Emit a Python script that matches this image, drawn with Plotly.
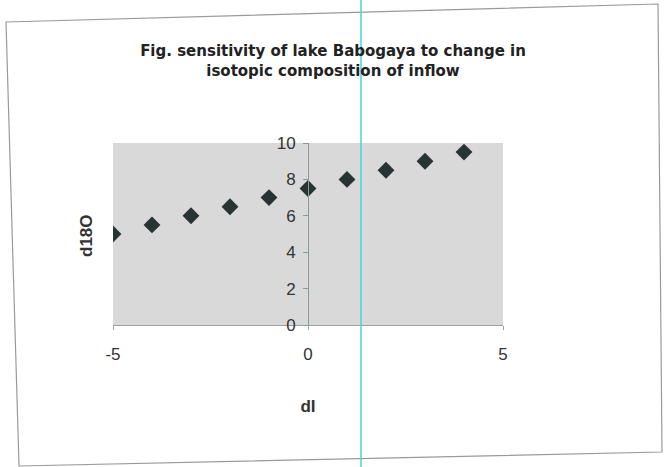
import plotly.graph_objects as go

# sensitivity of lake Babogaya: change in inflow composition (dI) vs lake d18O
dI = [-5, -4, -3, -2, -1, 0, 1, 2, 3, 4]
d18O = [5.0, 5.5, 6.0, 6.5, 7.0, 7.5, 8.0, 8.5, 9.0, 9.5]
x_ticks = [-5, 0, 5]
x_labels = ["-5", "0", "5"]
y_ticks = [0, 2, 4, 6, 8, 10]

W, H = 669, 467
L, R, T, B = 113, 503, 143, 325  # plot area in pixels


def px(x):
    return (x - L) / (R - L)


def py(y):
    return (B - y) / (B - T)


fig = go.Figure()
fig.add_trace(go.Scatter(
    x=dI, y=d18O, mode="markers",
    marker=dict(symbol="diamond", size=13, color="#283434",
                line=dict(width=0)),
    showlegend=False,
))

# chart frame (scan is slightly skewed)
corners = [(6, 22), (658, 4), (662, 452), (19, 466)]
path = "M " + " L ".join(f"{px(a)},{py(b)}" for a, b in corners) + " Z"
fig.add_shape(type="path", path=path, xref="paper", yref="paper",
              line=dict(color="#9a9a9a", width=1.2), layer="below")
# cyan scanner line
fig.add_shape(type="line", xref="paper", yref="paper",
              x0=px(361), x1=px(361), y0=py(0), y1=py(467),
              line=dict(color="#40d8d8", width=1.5))

fig.update_layout(
    width=W, height=H,
    margin=dict(l=L, r=W - R, t=T, b=H - B),
    paper_bgcolor="white",
    plot_bgcolor="#d9d9d9",
    font=dict(family="Liberation Sans, Arial", color="#2a2a2a"),
    title=dict(
        text="<b>Fig. sensitivity of lake Babogaya to change in<br>isotopic composition of inflow</b>",
        xref="container", x=333 / W, xanchor="center",
        yref="container", y=1 - 56 / H, yanchor="middle",
        font=dict(family="DejaVu Sans", size=15, color="#222222"),
    ),
    xaxis=dict(
        range=[-5, 5], tickvals=x_ticks, ticktext=x_labels,
        showgrid=False, zeroline=False,
        showline=True, linecolor="#a0a0a0", linewidth=1,
        ticks="outside", ticklen=4, tickcolor="#a0a0a0",
        ticklabelstandoff=10,
        tickfont=dict(size=17, color="#333333"),
        title=dict(text="<b>dI</b>", font=dict(size=17, color="#333333"), standoff=36),
    ),
    yaxis=dict(
        range=[0, 10], tickvals=y_ticks, showgrid=False, zeroline=False,
        anchor="free", position=0.5,
        showline=True, linecolor="#8a9a9a", linewidth=1,
        ticks="outside", ticklen=5, tickcolor="#8a9a9a",
        ticklabelstandoff=4,
        tickfont=dict(size=17, color="#333333"),
    ),
    annotations=[dict(
        text="<b>d18O</b>", xref="paper", yref="paper",
        x=px(86), y=py(236), xanchor="center", yanchor="middle",
        textangle=-90, showarrow=False,
        font=dict(size=17, color="#333333"),
    )],
)

fig.write_html("out.html", config={"displayModeBar": False},
               post_script="document.body.style.margin='0';")
